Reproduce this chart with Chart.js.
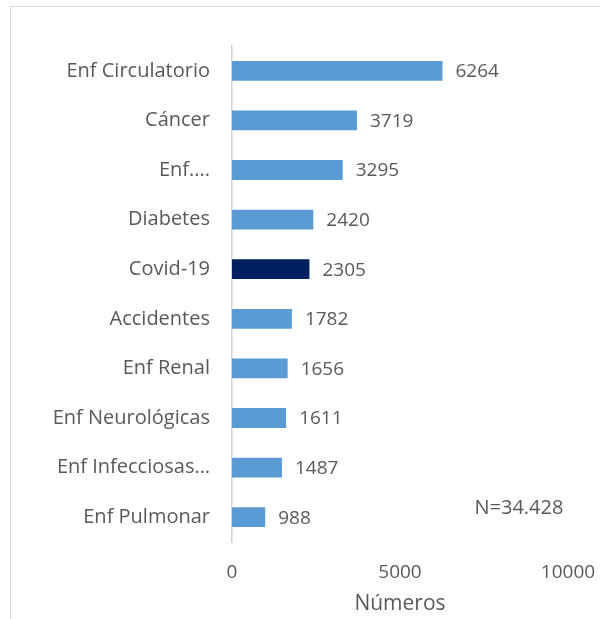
<!DOCTYPE html>
<html>
<head>
<meta charset="utf-8">
<script src="https://cdn.jsdelivr.net/npm/chart.js@4.4.1/dist/chart.umd.min.js"></script>
<style>
  html, body { margin: 0; padding: 0; background: #fff; }
  #wrap { position: relative; width: 600px; height: 619px; overflow: hidden; }
  #frame { position: absolute; left: 10px; top: 6px; width: 700px; height: 700px; border: 1px solid #d9d9d9; box-sizing: border-box; }
  canvas { position: absolute; left: 0; top: 0; }
</style>
</head>
<body>
<div id="wrap">
  <div id="frame"></div>
  <canvas id="chart" width="600" height="619"></canvas>
</div>
<script>
// Datos
const categorias = [
  'Enf Circulatorio', 'Cáncer', 'Enf....', 'Diabetes', 'Covid-19',
  'Accidentes', 'Enf Renal', 'Enf Neurológicas', 'Enf Infecciosas…', 'Enf Pulmonar'
]
const valores = [6264, 3719, 3295, 2420, 2305, 1782, 1656, 1611, 1487, 988]
const destacado = 'Covid-19'
const ticksX = [0, 5000, 10000]
const tituloX = 'Números'
const notaTotal = 'N=34.428'

const TEXTO = '#595959'
const FUENTE = "'Open Sans', 'Noto Sans', sans-serif"

// Etiquetas de valor al final de cada barra + nota N
const etiquetas = {
  id: 'etiquetas',
  afterDatasetsDraw(chart) {
    const ctx = chart.ctx
    const meta = chart.getDatasetMeta(0)
    ctx.save()
    ctx.font = `19px ${FUENTE}`
    ctx.fillStyle = TEXTO
    ctx.textAlign = 'left'
    ctx.textBaseline = 'middle'
    meta.data.forEach((bar, i) => {
      ctx.fillText(String(valores[i]), bar.x + 13, bar.y + 1)
    })
    const xs = chart.scales.x, ys = chart.scales.y
    ctx.font = `20px ${FUENTE}`
    ctx.textAlign = 'center'
    ctx.fillText(notaTotal, xs.getPixelForValue(8540), ys.getPixelForValue(8.82))
    ctx.restore()
  }
}

new Chart(document.getElementById('chart'), {
  type: 'bar',
  data: {
    labels: categorias,
    datasets: [{
      data: valores,
      backgroundColor: categorias.map(c => c === destacado ? '#002060' : '#5b9bd5'),
      barPercentage: 0.4,
      categoryPercentage: 1
    }]
  },
  options: {
    indexAxis: 'y',
    responsive: false,
    animation: false,
    layout: { padding: { top: 46, right: 0, left: 0, bottom: 0 } },
    plugins: { legend: { display: false }, tooltip: { enabled: false } },
    scales: {
      x: {
        min: 0, max: 10000,
        afterBuildTicks: s => { s.ticks = ticksX.map(v => ({ value: v })) },
        afterFit: s => { s.height = 77; s.paddingRight = 32; s.paddingLeft = 0 },
        grid: { display: false, drawTicks: false },
        border: { display: false },
        ticks: { color: TEXTO, font: { family: FUENTE, size: 19 }, padding: 19, maxRotation: 0,
                 callback: v => String(v) },
        title: { display: true, text: tituloX, color: TEXTO, font: { family: FUENTE, size: 21 }, padding: { top: 0, bottom: 2 } }
      },
      y: {
        afterFit: s => { s.width = 232 },
        grid: { display: false, drawTicks: false },
        border: { color: '#d0d0d0', width: 1.5 },
        ticks: { color: TEXTO, font: { family: FUENTE, size: 20 }, padding: 22 }
      }
    }
  },
  plugins: [etiquetas]
})
</script>
</body>
</html>
